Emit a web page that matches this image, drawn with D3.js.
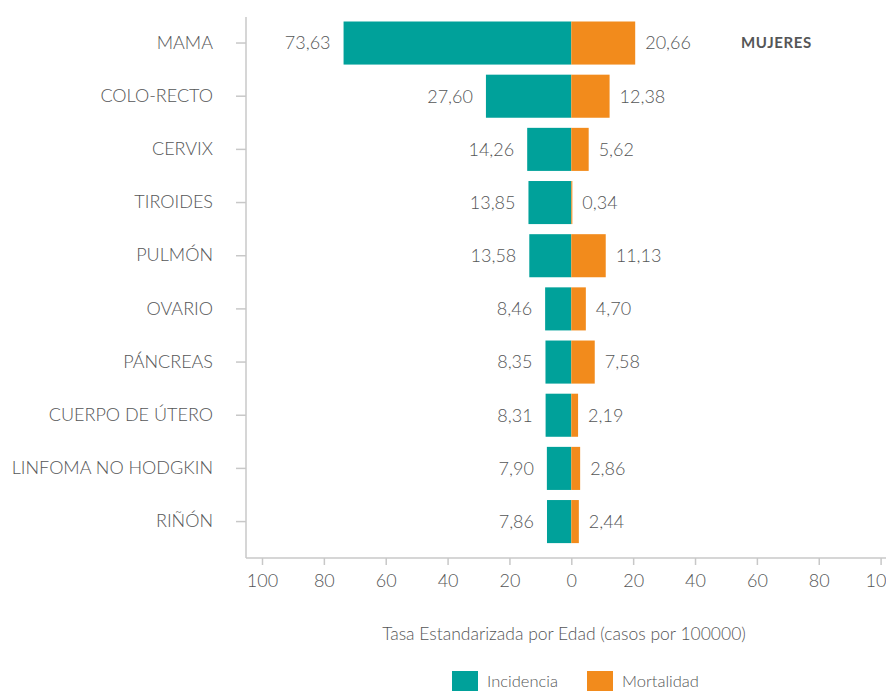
<!DOCTYPE html>
<html>
<head>
  <meta charset="utf-8">
  <title>Incidencia y mortalidad - Mujeres</title>
  <script src="https://d3js.org/d3.v7.min.js"></script>
  <style>
    body { margin: 0; overflow: hidden; background: #fff; }
    svg { display: block; font-family: Lato, "Open Sans", sans-serif; }
  </style>
</head>
<body>
  <svg width="886" height="691"></svg>

  <script>
    // datos
    const categorias = ["MAMA", "COLO-RECTO", "CERVIX", "TIROIDES", "PULMÓN", "OVARIO",
      "PÁNCREAS", "CUERPO DE ÚTERO", "LINFOMA NO HODGKIN", "RIÑÓN"];
    const incidencia = [73.63, 27.60, 14.26, 13.85, 13.58, 8.46, 8.35, 8.31, 7.90, 7.86];
    const mortalidad = [20.66, 12.38, 5.62, 0.34, 11.13, 4.70, 7.58, 2.19, 2.86, 2.44];
    const ticks = [-100, -80, -60, -40, -20, 0, 20, 40, 60, 80, 100];
    const series = ["Incidencia", "Mortalidad"];

    const teal = "#00a19a", orange = "#f28b1c", grey = "#555657", axisGrey = "#c8c8c8";
    const fmt = v => d3.format(".2f")(v).replace(".", ",");

    const svg = d3.select("svg");
    const g = svg.append("g");

    const x = d3.scaleLinear().domain([-100, 100]).range([262, 880.6]);
    const y = d3.scaleBand().domain(categorias)
      .range([21.5, 558]).paddingInner(0.19).paddingOuter(0.14).align(0);

    const rows = categorias.map((c, i) => ({ c, inc: incidencia[i], mor: mortalidad[i] }));

    // eje y
    g.append("line")
      .attr("x1", 246).attr("x2", 246).attr("y1", 17).attr("y2", 558)
      .attr("stroke", axisGrey).attr("stroke-width", 1.5);
    const yAxis = g.append("g").attr("transform", "translate(246,0)")
      .call(d3.axisLeft(y).tickSize(10).tickPadding(23));
    yAxis.select(".domain").remove();
    yAxis.selectAll("line").attr("stroke", axisGrey).attr("stroke-width", 1.5);
    yAxis.selectAll("text").attr("fill", grey).style("font-size", "18px")
      .style("font-family", "Lato, sans-serif").style("font-weight", 300);

    // eje x
    const xAxis = g.append("g").attr("transform", "translate(0,558)")
      .call(d3.axisBottom(x).tickValues(ticks).tickFormat(d => Math.abs(d)).tickSize(7).tickPadding(9).tickSizeOuter(0));
    xAxis.select(".domain").attr("d", "M246,0H886").attr("stroke", axisGrey).attr("stroke-width", 1.5);
    xAxis.selectAll("line").attr("stroke", axisGrey).attr("stroke-width", 1.5);
    xAxis.selectAll("text").attr("fill", grey).style("font-size", "18px")
      .style("font-family", "Lato, sans-serif").style("font-weight", 300);

    // barras
    g.selectAll("rect.inc").data(rows).join("rect").attr("class", "inc")
      .attr("x", d => x(-d.inc)).attr("width", d => x(0) - x(-d.inc))
      .attr("y", d => y(d.c)).attr("height", y.bandwidth()).attr("fill", teal);
    g.selectAll("rect.mor").data(rows).join("rect").attr("class", "mor")
      .attr("x", x(0)).attr("width", d => x(d.mor) - x(0))
      .attr("y", d => y(d.c)).attr("height", y.bandwidth()).attr("fill", orange);

    // etiquetas
    const lblStyle = sel => sel.attr("fill", grey).attr("dy", "0.35em")
      .style("font-size", "18px").style("font-weight", 300);
    g.selectAll("text.inc").data(rows).join("text").attr("class", "inc")
      .attr("x", d => x(-d.inc) - 13).attr("y", d => y(d.c) + y.bandwidth() / 2)
      .attr("text-anchor", "end").text(d => fmt(d.inc)).call(lblStyle);
    g.selectAll("text.mor").data(rows).join("text").attr("class", "mor")
      .attr("x", d => x(d.mor) + 10).attr("y", d => y(d.c) + y.bandwidth() / 2)
      .attr("text-anchor", "start").text(d => fmt(d.mor)).call(lblStyle);

    g.append("text").attr("x", 741).attr("y", y("MAMA") + y.bandwidth() / 2).attr("dy", "0.35em")
      .attr("fill", grey).style("font-size", "15px").style("font-weight", 700)
      .style("letter-spacing", "0.6px").text("MUJERES");

    // titulo eje
    g.append("text").attr("x", 564).attr("y", 634).attr("dy", "0.35em")
      .attr("text-anchor", "middle").attr("fill", grey).style("font-size", "17.5px").style("font-weight", 300)
      .text("Tasa Estandarizada por Edad (casos por 100000)");

    // leyenda
    const leg = g.append("g").selectAll("g").data(series).join("g")
      .attr("transform", (d, i) => `translate(${i ? 587 : 452},671)`);
    leg.append("rect").attr("width", 26).attr("height", 20).attr("fill", (d, i) => i ? orange : teal);
    leg.append("text").attr("x", 35).attr("y", 10).attr("dy", "0.35em")
      .attr("fill", grey).style("font-size", "16.5px").style("font-weight", 300).text(d => d);
  </script>
</body>
</html>
